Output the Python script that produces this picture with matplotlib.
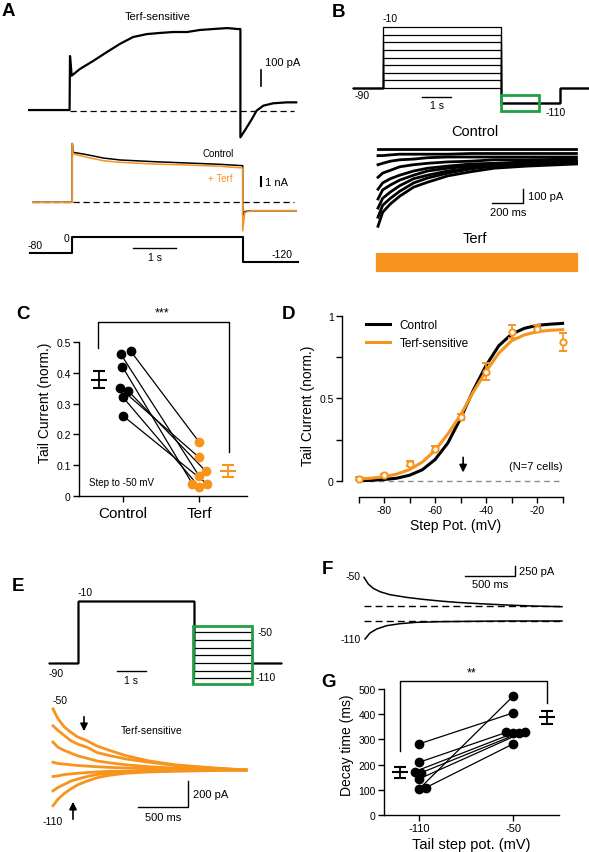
import matplotlib
matplotlib.use('Agg')
import matplotlib.pyplot as plt
from matplotlib.patches import Rectangle

plt.rcParams['font.family'] = ['Liberation Sans', 'DejaVu Sans']
plt.rcParams['axes.linewidth'] = 1.0

W, H = 589, 853
ORANGE = '#F7941E'
GREEN = '#22A046'

# ---------------- data ----------------
# A  step -80 -> 0 mV (4 s) -> -120 mV
a_sens_t = [-0.96, -0.01, 0.0, 0.04, 0.23, 0.54, 0.87, 1.17, 1.48, 1.81, 2.11, 2.42, 2.75,
            3.05, 3.36, 3.69, 3.94, 4.0, 4.0, 4.15, 4.27, 4.38, 4.54, 4.77, 5.09, 5.31]
a_sens_i = [8, 8, 352, 227, 269, 320, 378, 429, 473, 492, 499, 505, 505,
            518, 524, 530, 524, 524, -166, -102, -49, 4, 36, 51, 57, 57]          # pA

a_tot_t = [-0.92, 0.0, 0.0, 0.02, 0.34, 0.73, 1.12, 1.9, 2.69, 3.47, 4.0, 4.0, 4.05, 4.2, 5.25]
a_ctrl_i = [0, 0, 7.0, 5.95, 5.67, 5.27, 5.04, 4.84, 4.68, 4.52, 4.36, -1.6, -1.1, -1.0, -1.0]   # nA
a_terf_i = [0, 0, 7.0, 5.75, 5.36, 4.95, 4.76, 4.56, 4.44, 4.29, 4.08, -3.4, -1.2, -1.0, -1.0]   # nA

a_prot_t = [-1.0, 0, 0, 4.0, 4.0, 5.3]
a_prot_v = [-80, -80, 0, 0, -120, -120]

# B  steps -90..-10 mV (4 s), tail to -110 mV
b_levels = [-10, -20, -30, -40, -50, -60, -70, -80, -90]
b_prot_t = [-1, 0, 0, 4, 4, 6, 6, 7]
b_tail_v = -110
b_base_v = -90
b_t = [0, 0.03, 0.08, 0.14, 0.23, 0.32, 0.45, 0.6, 0.75, 0.96, 1.28]
b_ctrl = [
    [-545, -445, -385, -330, -265, -230, -185, -155, -130, -115, -100],
    [-480, -395, -345, -295, -235, -200, -165, -135, -115, -100, -95],
    [-415, -345, -300, -255, -205, -180, -150, -130, -105, -100, -95],
    [-350, -285, -250, -215, -180, -150, -130, -115, -100, -95, -85],
    [-280, -235, -205, -180, -150, -130, -115, -100, -95, -85, -80],
    [-195, -165, -145, -120, -105, -95, -85, -80, -70, -70, -65],
    [-105, -95, -80, -70, -65, -55, -50, -50, -50, -50, -50],
    [-40, -40, -35, -30, -30, -30, -30, -25, -25, -25, -25],
    [5, 5, 5, 5, 5, 5, 5, 5, 5, 5, 5],
]
b_terf = [0, -14, -28, -42, -56, -70, -84, -98, -110]   # pA, flat sweeps

# C  tail current at -50 mV (norm.)
c_ctrl = [0.46, 0.47, 0.42, 0.35, 0.34, 0.32, 0.26]
c_ctrl_x = [-0.03, 0.10, -0.01, -0.04, 0.07, 0.0, 0.0]
c_terf = [0.065, 0.175, 0.04, 0.125, 0.08, 0.03, 0.04]
c_terf_x = [1.0, 1.0, 0.91, 1.0, 1.09, 1.0, 1.1]
c_mean = [0.377, 0.081]
c_sem = [0.028, 0.019]
c_names = ['Control', 'Terf']

# D  activation curves
d_v = [-90, -80, -70, -60, -50, -40, -30, -20, -10]
d_terf = [0.014, 0.034, 0.105, 0.196, 0.388, 0.663, 0.905, 0.923, 0.84]
d_err = [0.01, 0.01, 0.015, 0.015, 0.02, 0.05, 0.04, 0.02, 0.055]
d_fit_v = [-90, -85, -80, -75, -70, -65, -60, -55, -50, -45, -40, -35, -30, -25, -20, -15, -10]
d_fit_ctrl = [0.002, 0.004, 0.009, 0.017, 0.035, 0.068, 0.13, 0.23, 0.38, 0.55, 0.70,
              0.82, 0.89, 0.925, 0.943, 0.95, 0.955]
d_fit_terf = [0.012, 0.017, 0.026, 0.042, 0.069, 0.115, 0.185, 0.285, 0.40, 0.54, 0.665,
              0.775, 0.85, 0.885, 0.905, 0.913, 0.917]

# E  tail steps -50..-110 mV after -10 mV
e_tails = [-50, -60, -70, -80, -90, -100, -110]
e_t = [0, 0.049, 0.114, 0.179, 0.244, 0.341, 0.438, 0.568, 0.73, 0.958, 1.22, 1.54, 1.93]
e_sens = [
    [470, 395, 330, 290, 255, 225, 185, 150, 110, 70, 40, 20, 0],
    [340, 305, 265, 225, 200, 175, 135, 110, 85, 60, 35, 15, 0],
    [215, 175, 150, 130, 110, 90, 70, 55, 40, 25, 15, 10, 0],
    [60, 50, 45, 40, 35, 30, 25, 20, 15, 10, 5, 5, 0],
    [-50, -45, -35, -30, -25, -20, -15, -10, -10, -5, -5, 0, 0],
    [-160, -135, -110, -85, -70, -50, -35, -25, -15, -10, -5, 0, 0],
    [-275, -225, -180, -145, -115, -85, -60, -40, -25, -15, -10, -5, 0],
]

# F  example decays
f_t50 = [0, 0.043, 0.093, 0.16, 0.26, 0.427, 0.593, 0.76, 0.927, 1.16, 1.43, 1.69, 1.98]
f_i50 = [708, 542, 433, 350, 275, 208, 158, 117, 83, 50, 17, -8, -25]
f_t110 = [0.01, 0.06, 0.127, 0.227, 0.36, 0.527, 0.76, 1.09, 1.43, 1.98]
f_i110 = [-450, -300, -200, -117, -67, -33, -17, -8, 0, 0]

# G  decay time constants (ms)
g_110 = [282, 209, 172, 168, 143, 103, 108]
g_110_x = [0, 0, -0.046, 0.025, 0, 0, 0.07]
g_50 = [405, 328, 324, 324, 331, 471, 282]
g_50_x = [1.0, 0.93, 1.0, 1.06, 1.125, 1.0, 1.0]
g_mean = [169, 387]
g_sem = [21, 24]
g_names = ['-110', '-50']

# ---------------- figure ----------------
fig = plt.figure(figsize=(W / 100, H / 100), dpi=100)


def ptext(x, y, s, **kw):
    kw.setdefault('ha', 'center')
    kw.setdefault('va', 'center')
    fig.text(x / W, 1 - y / H, s, **kw)


def box_axes(left, top, right, bottom):
    return fig.add_axes([left / W, 1 - bottom / H, (right - left) / W, (bottom - top) / H])


def trace_axes(left, top, right, bottom, x0, xs, y0, ys):
    ax = box_axes(left, top, right, bottom)
    ax.set_xlim((left - x0) / xs, (right - x0) / xs)
    ax.set_ylim((y0 - bottom) / ys, (y0 - top) / ys)
    ax.axis('off')
    return ax


def style_axes(ax, fs=7.5):
    ax.spines['top'].set_visible(False)
    ax.spines['right'].set_visible(False)
    ax.tick_params(direction='out', length=4, width=1, labelsize=fs, pad=2)
    ax.patch.set_alpha(0)


# panel letters
for lab, x, y in [('A', 2, 3), ('B', 332, 4), ('C', 16, 306), ('D', 282, 306),
                  ('E', 12, 578), ('F', 322, 561), ('G', 321, 674)]:
    ptext(x, y, lab, ha='left', va='top', fontsize=13.5, fontweight='bold')

# ---- A ----
ax = trace_axes(20, 20, 300, 145, 70, 42.6, 112.3, 0.157)
ax.plot(a_sens_t, a_sens_i, color='k', lw=1.6)
ax.plot([0, 5.25], [0, 0], color='k', lw=0.9, ls=(0, (5, 3)))
ax.plot([4.48, 4.48], [163, 263], color='k', lw=1.2)
ptext(158, 17, 'Terf-sensitive', fontsize=8)
ptext(265, 63, '100 pA', ha='left', fontsize=8)

ax = trace_axes(20, 135, 300, 240, 72.3, 42.6, 203.3, 8.4)
ax.plot([-0.92, 5.2], [0, 0], color='k', lw=0.9, ls=(0, (5, 3)))
ax.plot(a_tot_t, a_ctrl_i, color='k', lw=1.1)
ax.plot(a_tot_t, a_terf_i, color=ORANGE, lw=1.1)
ax.plot([4.42, 4.42], [1.98, 2.98], color='k', lw=1.5)
ptext(218, 154, 'Control', fontsize=7)
ptext(220, 179, '+ Terf', fontsize=7, color=ORANGE)
ptext(265, 183, '1 nA', ha='left', fontsize=8)

ax = trace_axes(20, 228, 300, 270, 72.3, 42.6, 237.7, 0.2075)
ax.plot(a_prot_t, a_prot_v, color='k', lw=1.5)
ax.plot([1.43, 2.43], [-54.5, -54.5], color='k', lw=1.0)
ptext(35, 246, '-80', fontsize=7.5)
ptext(66, 239, '0', fontsize=7.5)
ptext(282, 255, '-120', fontsize=7.5)
ptext(155, 258, '1 s', fontsize=7.5)

# ---- B ----
ax = trace_axes(350, 20, 589, 118, 383, 29.5, 20.4, 0.7625)
for lvl in b_levels:
    ax.plot(b_prot_t, [b_base_v, b_base_v, lvl, lvl, b_tail_v, b_tail_v, b_base_v, b_base_v],
            color='k', lw=0.9)
ax.add_patch(Rectangle((4.0, -120), 1.3, 21, fill=False, ec=GREEN, lw=2, zorder=5))
ax.plot([1.32, 2.32], [-101.8, -101.8], color='k', lw=1.0)
ptext(390, 19, '-10', fontsize=7.5)
ptext(362, 96, '-90', fontsize=7.5)
ptext(556, 113, '-110', fontsize=7.5)
ptext(437, 106, '1 s', fontsize=7.5)

ax = trace_axes(370, 140, 589, 235, 378, 155, 151, 0.14)
for tr in b_ctrl:
    ax.plot(b_t, tr, color='k', lw=2.0, solid_joinstyle='round')
ax.plot([0.735, 0.935, 0.935], [-379, -379, -279], color='k', lw=1.0)
ptext(475, 132, 'Control', fontsize=10.5)
ptext(528, 197, '100 pA', ha='left', fontsize=8)
ptext(508, 213, '200 ms', fontsize=8)

ax = trace_axes(370, 245, 589, 282, 378, 155, 256, 0.14)
for lvl in b_terf:
    ax.plot([b_t[0], b_t[-1]], [lvl, lvl], color=ORANGE, lw=3)
ptext(475, 239, 'Terf', fontsize=10.5)

# ---- C ----
ax = box_axes(79, 309, 247, 497)
style_axes(ax)
for i in range(len(c_ctrl)):
    ax.plot([c_ctrl_x[i], c_terf_x[i]], [c_ctrl[i], c_terf[i]], color='k', lw=0.9, zorder=2)
ax.plot(c_ctrl_x, c_ctrl, 'o', color='k', ms=6, zorder=3)
ax.plot(c_terf_x, c_terf, 'o', color=ORANGE, ms=6, zorder=3)
for xm, m, s, col in [(-0.32, c_mean[0], c_sem[0], 'k'), (1.38, c_mean[1], c_sem[1], ORANGE)]:
    ax.errorbar([xm], [m], yerr=[s], fmt='_', color=col, ms=11, mew=1.5,
                capsize=4, capthick=1.3, elinewidth=1.3)
ax.plot([-0.33, -0.33, 1.39, 1.39], [0.48, 0.565, 0.565, 0.143], color='k', lw=1.0, clip_on=False)
ax.text(0.51, 0.575, '***', ha='center', va='bottom', fontsize=9)
ax.text(-0.45, 0.045, 'Step to -50 mV', ha='left', va='center', fontsize=7)
ax.set_xlim(-0.58, 1.63)
ax.set_ylim(0, 0.61)
ax.spines['left'].set_bounds(0, 0.5)
ax.set_yticks([0, 0.1, 0.2, 0.3, 0.4, 0.5])
ax.set_yticklabels(['0', '0.1', '0.2', '0.3', '0.4', '0.5'])
ax.set_xticks([0, 1])
ax.set_xticklabels(c_names, fontsize=11)
ax.tick_params(axis='x', pad=3)
ax.set_ylabel('Tail Current (norm.)', fontsize=10, labelpad=3)

# ---- D ----
ax = box_axes(342, 313, 570, 498)
style_axes(ax)
ax.plot([-90, -10], [0, 0], color='0.55', lw=1.0, ls=(0, (4, 3)), zorder=1)
ax.plot(d_fit_v, d_fit_ctrl, color='k', lw=2.2, label='Control', zorder=3)
ax.plot(d_fit_v, d_fit_terf, color=ORANGE, lw=2.2, label='Terf-sensitive', zorder=4)
ax.errorbar(d_v, d_terf, yerr=d_err, fmt='o', color=ORANGE, mfc='white', mec=ORANGE,
            ms=4.5, mew=1.4, capsize=3, capthick=1.2, elinewidth=1.2, zorder=5)
ax.annotate('', xy=(-49, 0.035), xytext=(-49, 0.16),
            arrowprops=dict(arrowstyle='-|>', color='k', lw=1.2, mutation_scale=11))
ax.text(-10, 0.09, '(N=7 cells)', ha='right', va='center', fontsize=8)
ax.legend(loc='upper left', bbox_to_anchor=(0.06, 1.02), frameon=False, fontsize=8.5,
          handlelength=2.0, handletextpad=0.8, labelspacing=0.5)
ax.set_xlim(-96.5, -7.1)
ax.set_ylim(-0.097, 1.024)
ax.spines['left'].set_bounds(0, 1)
ax.spines['bottom'].set_bounds(-90, -10)
ax.set_yticks([0, 0.25, 0.5, 0.75, 1])
ax.set_yticklabels(['0', '', '0.5', '', '1'])
ax.set_xticks(d_v)
ax.set_xticklabels(['' if v % 20 else str(v) for v in d_v])
ax.set_ylabel('Tail Current (norm.)', fontsize=10, labelpad=3)
ax.set_xlabel('Step Pot. (mV)', fontsize=10, labelpad=2)

# ---- E ----
ax = trace_axes(40, 588, 289, 690, 78, 29, 594.7, 0.77)
for lvl in e_tails:
    ax.plot(b_prot_t, [b_base_v, b_base_v, -10, -10, lvl, lvl, b_base_v, b_base_v],
            color='k', lw=0.9)
ax.add_patch(Rectangle((3.97, -117.3), 2.03, 75.4, fill=False, ec=GREEN, lw=2, zorder=5))
ax.plot([1.34, 2.34], [-100.4, -100.4], color='k', lw=1.0)
ptext(85, 593, '-10', fontsize=7.5)
ptext(56, 674, '-90', fontsize=7.5)
ptext(258, 633, '-50', ha='left', fontsize=7.5)
ptext(256, 678, '-110', ha='left', fontsize=7.5)
ptext(131, 681, '1 s', fontsize=7.5)

ax = trace_axes(40, 695, 289, 830, 53, 100, 771, 0.13)
for tr in e_sens:
    ax.plot(e_t, tr, color=ORANGE, lw=2.0)
ax.plot([0.85, 1.35, 1.35], [-285, -285, -85], color='k', lw=1.0)
ax.annotate('', xy=(0.31, 277), xytext=(0.31, 431),
            arrowprops=dict(arrowstyle='-|>', color='k', lw=1.2, mutation_scale=11))
ax.annotate('', xy=(0.2, -223), xytext=(0.2, -400),
            arrowprops=dict(arrowstyle='-|>', color='k', lw=1.2, mutation_scale=11))
ptext(60, 701, '-50', fontsize=7.5)
ptext(53, 822, '-110', fontsize=7.5)
ptext(152, 731, 'Terf-sensitive', fontsize=7.5)
ptext(193, 795, '200 pA', ha='left', fontsize=8)
ptext(163, 818, '500 ms', fontsize=8)

# ---- F ----
ax = trace_axes(330, 555, 589, 650, 364, 100, 606.7, 0.04)
ax.plot([0, 1.98], [0, 0], color='k', lw=1.0, ls=(0, (5, 3)))
ax.plot(f_t50, f_i50, color='k', lw=1.1)
ax.plot([1.01, 1.51, 1.51], [750, 750, 1000], color='k', lw=1.0)
ax = trace_axes(330, 555, 589, 650, 364, 100, 622, 0.04)
ax.plot([0, 1.98], [0, 0], color='k', lw=1.0, ls=(0, (5, 3)))
ax.plot(f_t110, f_i110, color='k', lw=1.1)
ptext(361, 577, '-50', ha='right', fontsize=7.5)
ptext(361, 640, '-110', ha='right', fontsize=7.5)
ptext(519, 572, '250 pA', ha='left', fontsize=8)
ptext(490, 585, '500 ms', fontsize=8)

# ---- G ----
ax = box_axes(384, 675, 559, 816)
style_axes(ax)
for i in range(len(g_110)):
    ax.plot([g_110_x[i], g_50_x[i]], [g_110[i], g_50[i]], color='k', lw=0.9, zorder=2)
ax.plot(g_110_x, g_110, 'o', color='k', ms=6, zorder=3)
ax.plot(g_50_x, g_50, 'o', color='k', ms=6, zorder=3)
for xm, m, s in [(-0.2, g_mean[0], g_sem[0]), (1.36, g_mean[1], g_sem[1])]:
    ax.errorbar([xm], [m], yerr=[s], fmt='_', color='k', ms=11, mew=1.5,
                capsize=4, capthick=1.3, elinewidth=1.3)
ax.plot([-0.2, -0.2, 1.36, 1.36], [254, 532, 532, 444], color='k', lw=1.0, clip_on=False)
ax.text(0.56, 540, '**', ha='center', va='bottom', fontsize=9)
ax.set_xlim(-0.372, 1.489)
ax.set_ylim(0, 559.5)
ax.spines['left'].set_bounds(0, 500)
ax.set_yticks([0, 100, 200, 300, 400, 500])
ax.set_xticks([0, 1])
ax.set_xticklabels(g_names, fontsize=8)
ax.set_ylabel('Decay time (ms)', fontsize=10, labelpad=3)
ax.set_xlabel('Tail step pot. (mV)', fontsize=10.5, labelpad=3)

fig.savefig('out.png', dpi=100)
